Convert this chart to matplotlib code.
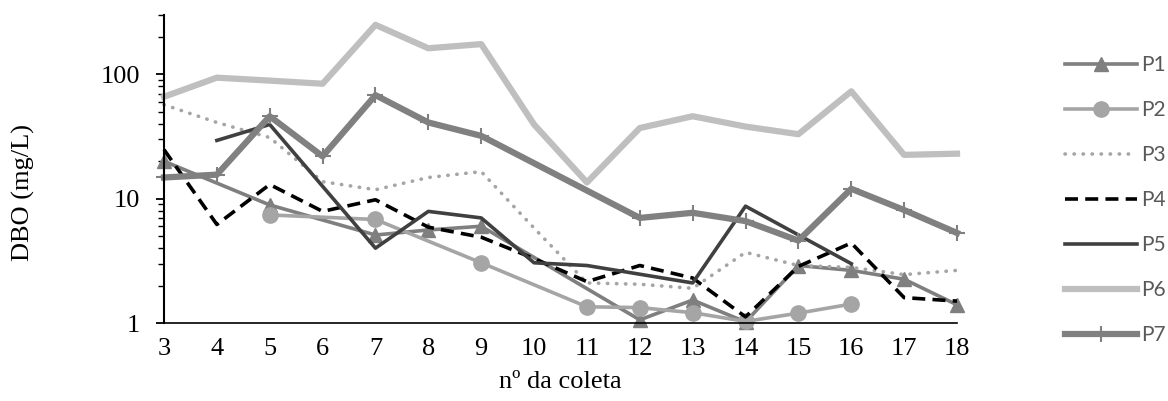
import matplotlib
matplotlib.use("Agg")
import matplotlib.pyplot as plt
import numpy as np

nan = np.nan

# nº da coleta
coletas = np.arange(3, 19)

# DBO (mg/L) per point, nan = no sample
p1 = [20, nan, 8.9, nan, 5.1, 5.6, 6.0, nan, nan, 1.06, 1.53, 1.02, 2.9, 2.65, 2.25, 1.4]
p2 = [nan, nan, 7.4, nan, 6.8, nan, 3.05, nan, 1.35, 1.33, 1.21, 1.03, 1.2, 1.42, nan, nan]
p3 = [57, 41, 31, 13.7, 11.8, 14.8, 16.5, 5.8, 2.1, 2.05, 1.9, 3.7, 2.9, 2.8, 2.45, 2.65]
p4 = [24.8, 6.2, 13.0, 7.9, 9.8, 5.9, 4.9, 3.3, 2.15, 2.9, 2.3, 1.12, 2.85, 4.4, 1.6, 1.5]
p5 = [nan, 29.4, 39.5, nan, 4.0, 7.9, 7.0, 3.05, 2.9, nan, 2.1, 8.7, nan, 3.0, nan, nan]
p6 = [66, 94, 89, 84, 250, 162, 175, 39.5, 13.5, 37, 46, 38, 33, 73, 22.5, 23]
p7 = [14.8, 15.6, 46, 21.9, 68, 41, 32, nan, nan, 7.0, 7.7, 6.6, 4.6, 12, 8.1, 5.3]

labels = ["P1", "P2", "P3", "P4", "P5", "P6", "P7"]
series = [p1, p2, p3, p4, p5, p6, p7]

styles = [
    dict(color="#7f7f7f", lw=2.6, marker="^", ms=10),
    dict(color="#a5a5a5", lw=2.6, marker="o", ms=11),
    dict(color="#a5a5a5", lw=2.6, ls=(0, (0.1, 2.4)), dash_capstyle="round"),
    dict(color="black", lw=2.6, ls=(0, (3.6, 2.0))),
    dict(color="#404040", lw=2.6),
    dict(color="#bfbfbf", lw=4.5),
    dict(color="#808080", lw=4.5, marker="+", ms=11, mew=1.5),
]

plt.rcParams["font.family"] = "Liberation Serif"

fig = plt.figure(figsize=(11.68, 4.01), dpi=100)
ax = fig.add_axes([164 / 1168, 1 - 323 / 401, (957 - 164) / 1168, (323 - 15) / 401])

handles = []
for y, lab, st in zip(series, labels, styles):
    y = np.array(y, dtype=float)
    ok = ~np.isnan(y)
    (h,) = ax.plot(coletas[ok], y[ok], label=lab, solid_joinstyle="round",
                   clip_on=False, **st)
    handles.append(h)

ax.set_yscale("log")
ax.set_ylim(1, 300)
ax.set_xlim(3, 18)
ax.set_xticks(coletas)
ax.set_yticks([1, 10, 100])
ax.set_yticklabels(["1", "10", "100"])

for s in ["top", "right"]:
    ax.spines[s].set_visible(False)
ax.spines["left"].set_linewidth(1.5)
ax.spines["bottom"].set_linewidth(1.2)

ax.tick_params(axis="x", length=0, pad=11, labelsize=19)
ax.tick_params(axis="y", which="major", length=6, width=1.3, pad=11, labelsize=19)
ax.tick_params(axis="y", which="minor", length=4, width=1.0)

ax.set_xlabel("nº da coleta", fontsize=19)
ax.xaxis.set_label_coords(0.5, -0.156)
ax.set_ylabel("DBO (mg/L)", fontsize=19)
ax.yaxis.set_label_coords(-0.163, 0.425)

fig.legend(handles=handles, loc="upper left",
           bbox_to_anchor=(1065 / 1168, 1 - 55 / 401),
           frameon=False, borderpad=0, borderaxespad=0,
           handlelength=3.45, handletextpad=0.2, labelspacing=1.2,
           prop={"family": "Lato", "size": 15}, labelcolor="#595959")

fig.savefig("out.png", dpi=100)
